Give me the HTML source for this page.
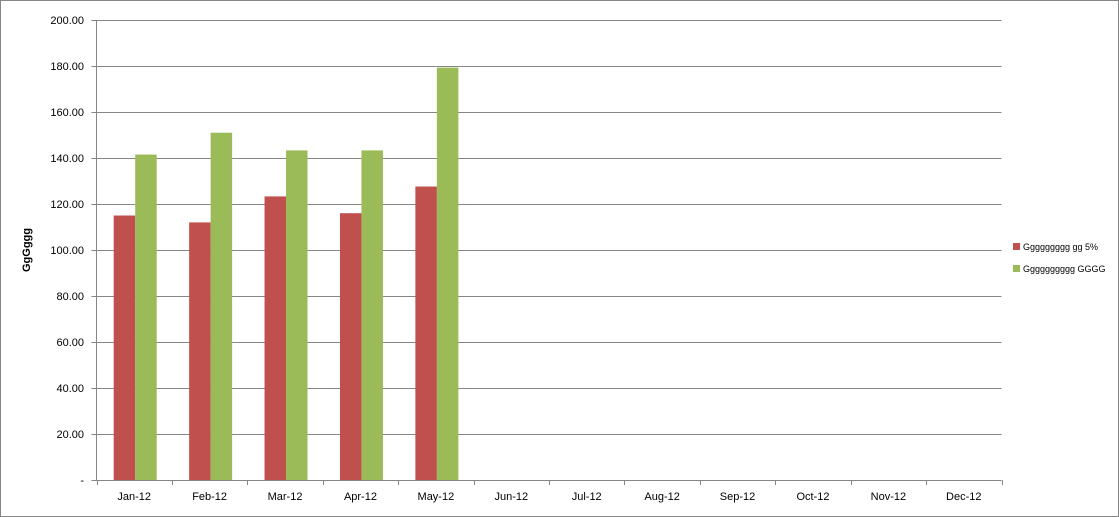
<!DOCTYPE html>
<html><head><meta charset="utf-8"><style>
html,body{margin:0;padding:0;background:#fff;}
svg{display:block;font-family:"Liberation Sans",Arial,sans-serif;}
</style></head><body>
<svg id="chart" width="1119" height="517" viewBox="0 0 1119 517">
<rect x="0.5" y="0.5" width="1118" height="516" fill="#fff" stroke="#868686"/>
<g id="grid"></g>
<g id="bars"></g>
<g id="axes"></g>
<text x="30" y="250" transform="rotate(-90 30 250)" text-anchor="middle" font-size="11" font-weight="bold" fill="#000">GgGggg</text>
<g>
<g><rect x="1013" y="243" width="7" height="7" fill="#c0504d"/><text x="1023" y="250" font-size="9" fill="#000">Ggggggggg gg 5%</text></g>
<g><rect x="1013" y="265" width="7" height="7" fill="#9bbb59"/><text x="1023" y="272" font-size="9" fill="#000">Gggggggggg GGGG</text></g>
</g>
</svg>
<script>
const categories=["Jan-12","Feb-12","Mar-12","Apr-12","May-12","Jun-12","Jul-12","Aug-12","Sep-12","Oct-12","Nov-12","Dec-12"];
const series1=[115,112,123.3,116,127.6,null,null,null,null,null,null,null];
const series2=[141.5,151,143.3,143.3,179.3,null,null,null,null,null,null,null];
const yTicks=[0,20,40,60,80,100,120,140,160,180,200];
const yTickLabels=["-","20.00","40.00","60.00","80.00","100.00","120.00","140.00","160.00","180.00","200.00"];
const NS="http://www.w3.org/2000/svg";
const X0=96.5,X1=1001.5,Y0=480,Y1=20,YMAX=200;
const cw=(X1-X0)/categories.length;
function y(v){return Y0-(v/YMAX)*(Y0-Y1);}
function xc(i){return X0+cw*i;}
function mk(tag,attrs,parent){const e=document.createElementNS(NS,tag);for(const k in attrs)e.setAttribute(k,attrs[k]);parent.appendChild(e);return e;}
const grid=document.getElementById('grid'),bars=document.getElementById('bars'),axes=document.getElementById('axes');
yTicks.forEach((t,i)=>{
  if(t>0){const l=mk('line',{x1:X0,x2:X1,y1:Math.round(y(t))+0.5,y2:Math.round(y(t))+0.5,stroke:'#868686','stroke-width':1},grid);
  
  }
  const tx=mk('text',{x:84,y:y(t)+4,'text-anchor':'end','font-size':11,fill:'#000'},axes);
  tx.textContent=yTickLabels[i];
  
  
  mk('line',{x1:X0-5,x2:X0,y1:Math.round(y(t))+0.5,y2:Math.round(y(t))+0.5,stroke:'#868686'},axes);
});
const bw=21.5,gap=(cw-2*bw)/2+1;
categories.forEach((c,i)=>{
  if(series1[i]!=null){const r=mk('rect',{x:xc(i)+gap,y:y(series1[i]),width:bw,height:Y0-y(series1[i]),fill:'#c0504d'},bars);
  
  }
  if(series2[i]!=null){const r=mk('rect',{x:xc(i)+gap+bw,y:y(series2[i]),width:bw,height:Y0-y(series2[i]),fill:'#9bbb59'},bars);
  
  }
  const tx=mk('text',{x:xc(i)+cw/2,y:500,'text-anchor':'middle','font-size':11,fill:'#000'},axes);
  tx.textContent=c;
  
  
});
for(let i=0;i<=categories.length;i++){mk('line',{x1:Math.round(xc(i))+0.5,x2:Math.round(xc(i))+0.5,y1:Y0,y2:Y0+5,stroke:'#868686'},axes);}
const ya=mk('line',{x1:X0,x2:X0,y1:Y1,y2:Y0,stroke:'#868686'},axes);


const xa=mk('line',{x1:X0,x2:X1,y1:Y0+0.5,y2:Y0+0.5,stroke:'#868686'},axes);


</script>
</body></html>
